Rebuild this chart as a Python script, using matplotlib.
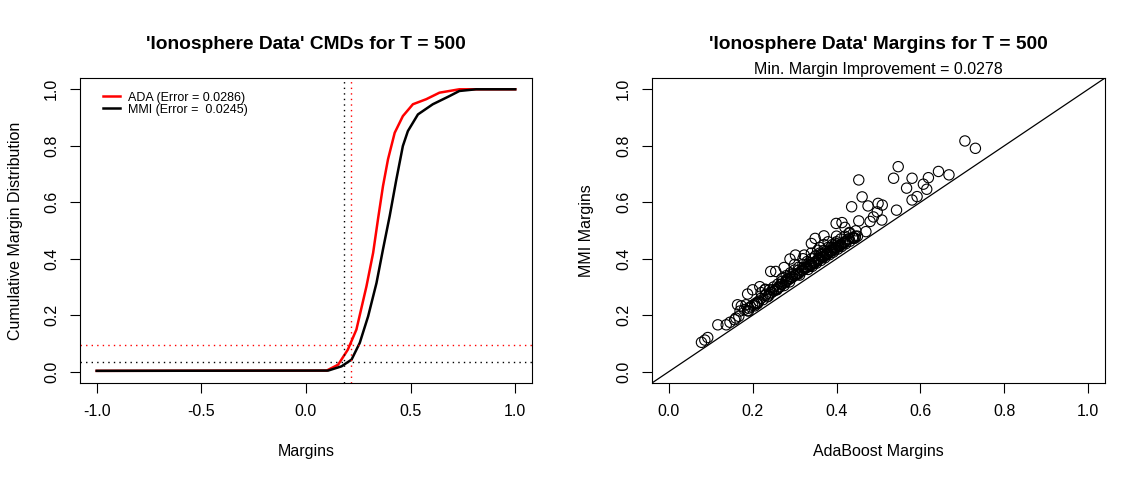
import matplotlib
matplotlib.use("Agg")
from matplotlib import pyplot as plt

plt.rcParams['font.family'] = ['Liberation Sans', 'DejaVu Sans']

# cumulative margin distributions
ada_margin = [-1.0, 0.099, 0.154, 0.20, 0.241, 0.289, 0.321, 0.344, 0.368,
              0.392, 0.424, 0.463, 0.511, 0.575, 0.638, 0.733, 1.0]
ada_cdf = [0.003, 0.004, 0.025, 0.078, 0.149, 0.302, 0.421, 0.539, 0.657,
           0.752, 0.846, 0.905, 0.947, 0.965, 0.988, 1.0, 1.0]
mmi_margin = [-1.0, 0.106, 0.17, 0.218, 0.257, 0.297, 0.337, 0.368, 0.40,
              0.432, 0.463, 0.487, 0.535, 0.606, 0.686, 0.733, 0.813, 1.0]
mmi_cdf = [0.003, 0.004, 0.019, 0.043, 0.102, 0.196, 0.314, 0.433, 0.551,
           0.681, 0.799, 0.852, 0.911, 0.947, 0.976, 0.994, 1.0, 1.0]
ada_vline, mmi_vline = 0.214, 0.181
ada_hline, mmi_hline = 0.096, 0.035

# per-sample margins (right panel)
ada_pts = [0.078, 0.086, 0.093, 0.117, 0.137, 0.146, 0.157, 0.16, 0.167, 0.164,
           0.173, 0.184, 0.188, 0.2, 0.188, 0.205, 0.217, 0.23, 0.243, 0.255,
           0.275, 0.289, 0.302, 0.323, 0.34, 0.349, 0.37, 0.399, 0.413, 0.42,
           0.436, 0.453, 0.461, 0.453, 0.475, 0.499, 0.509, 0.497, 0.488, 0.48,
           0.508, 0.47, 0.543, 0.536, 0.547, 0.567, 0.58, 0.58, 0.592, 0.607,
           0.615, 0.619, 0.643, 0.668, 0.706, 0.731, 0.444, 0.446, 0.431,
           0.17, 0.18, 0.19, 0.195, 0.2, 0.19, 0.21,
           0.205, 0.21, 0.215, 0.22, 0.22, 0.225, 0.23, 0.23, 0.235, 0.24,
           0.24, 0.245, 0.25, 0.25, 0.255, 0.26, 0.26, 0.265, 0.27, 0.27,
           0.275, 0.28, 0.28, 0.285, 0.29, 0.29, 0.295, 0.30, 0.30, 0.30,
           0.305, 0.31, 0.31, 0.315, 0.32, 0.32, 0.32, 0.325, 0.33, 0.33,
           0.335, 0.34, 0.34, 0.34, 0.345, 0.35, 0.35, 0.355, 0.355, 0.36,
           0.36, 0.36, 0.365, 0.37, 0.37, 0.37, 0.375, 0.38, 0.38, 0.38,
           0.385, 0.39, 0.39, 0.395, 0.40, 0.40, 0.40, 0.405, 0.41, 0.41,
           0.415, 0.42, 0.42, 0.425, 0.43, 0.43, 0.44, 0.445,
           0.232, 0.247, 0.262, 0.278, 0.292, 0.308, 0.318, 0.328, 0.338, 0.348,
           0.358, 0.368, 0.378, 0.388, 0.398, 0.408, 0.418, 0.428, 0.438, 0.35,
           0.362, 0.374, 0.386, 0.397, 0.31, 0.322, 0.334, 0.27, 0.283, 0.296,
           0.212, 0.238, 0.258, 0.288, 0.312, 0.332, 0.342, 0.352, 0.363, 0.372,
           0.383, 0.392, 0.403, 0.412, 0.422, 0.432, 0.441, 0.45, 0.392, 0.402,
           0.357, 0.367, 0.377, 0.337, 0.327, 0.303, 0.282, 0.268, 0.395, 0.405]
mmi_pts = [0.104, 0.112, 0.121, 0.166, 0.166, 0.175, 0.184, 0.19, 0.196, 0.237,
           0.233, 0.237, 0.275, 0.29, 0.216, 0.233, 0.301, 0.292, 0.355, 0.355,
           0.369, 0.399, 0.413, 0.413, 0.454, 0.472, 0.481, 0.525, 0.528, 0.511,
           0.584, 0.679, 0.619, 0.534, 0.587, 0.596, 0.59, 0.566, 0.548, 0.532,
           0.537, 0.496, 0.572, 0.685, 0.726, 0.65, 0.685, 0.608, 0.62, 0.664,
           0.646, 0.687, 0.709, 0.697, 0.817, 0.791, 0.473, 0.499, 0.493,
           0.215, 0.22, 0.225, 0.23, 0.235, 0.215, 0.24,
           0.24, 0.245, 0.25, 0.26, 0.28, 0.255, 0.27, 0.29, 0.265, 0.275,
           0.29, 0.28, 0.285, 0.30, 0.29, 0.295, 0.31, 0.30, 0.31, 0.33,
           0.305, 0.32, 0.34, 0.325, 0.33, 0.35, 0.335, 0.34, 0.36, 0.38,
           0.345, 0.35, 0.37, 0.355, 0.36, 0.38, 0.40, 0.365, 0.37, 0.39,
           0.375, 0.38, 0.40, 0.42, 0.385, 0.39, 0.41, 0.395, 0.43, 0.40,
           0.42, 0.44, 0.405, 0.41, 0.43, 0.45, 0.415, 0.42, 0.44, 0.46,
           0.425, 0.43, 0.45, 0.435, 0.44, 0.46, 0.48, 0.445, 0.45, 0.47,
           0.455, 0.46, 0.48, 0.465, 0.47, 0.49, 0.475, 0.48,
           0.275, 0.29, 0.30, 0.315, 0.335, 0.345, 0.36, 0.37, 0.375, 0.385,
           0.40, 0.405, 0.415, 0.43, 0.44, 0.445, 0.455, 0.47, 0.475, 0.41,
           0.415, 0.425, 0.44, 0.455, 0.36, 0.37, 0.385, 0.32, 0.33, 0.345,
           0.242, 0.268, 0.29, 0.318, 0.342, 0.362, 0.373, 0.384, 0.394, 0.403,
           0.414, 0.423, 0.434, 0.443, 0.453, 0.462, 0.472, 0.48, 0.44, 0.452,
           0.402, 0.415, 0.42, 0.38, 0.37, 0.346, 0.325, 0.31, 0.43, 0.445]

fig = plt.figure(figsize=(11.47, 4.82), dpi=100)
ax1 = fig.add_axes([0.0697, 0.2054, 0.3941, 0.6328])
ax2 = fig.add_axes([0.5684, 0.2054, 0.3950, 0.6328])

# left: CMDs
ax1.plot(ada_margin, ada_cdf, color='red', lw=1.8, label='ADA (Error = 0.0286)')
ax1.plot(mmi_margin, mmi_cdf, color='black', lw=1.8, label='MMI (Error =  0.0245)')
ax1.axvline(ada_vline, color='red', ls=(0, (1, 3)), lw=1)
ax1.axvline(mmi_vline, color='black', ls=(0, (1, 3)), lw=1)
ax1.axhline(ada_hline, color='red', ls=(0, (1, 3)), lw=1)
ax1.axhline(mmi_hline, color='black', ls=(0, (1, 3)), lw=1)
ax1.set_xlim(-1.08, 1.08)
ax1.set_ylim(-0.04, 1.04)
ax1.set_xticks([-1.0, -0.5, 0.0, 0.5, 1.0])
ax1.set_xticklabels(['-1.0', '-0.5', '0.0', '0.5', '1.0'])
ax1.set_yticks([0.0, 0.2, 0.4, 0.6, 0.8, 1.0])
ax1.set_yticklabels(['0.0', '0.2', '0.4', '0.6', '0.8', '1.0'], rotation=90, va='center')
ax1.set_title("'Ionosphere Data' CMDs for T = 500", fontsize=13.8, fontweight='bold', pad=21)
ax1.set_xlabel('Margins', fontsize=11.5)
ax1.set_ylabel('Cumulative Margin Distribution', fontsize=11.5)
ax1.legend(loc='upper left', bbox_to_anchor=(0.051, 0.955), frameon=False, fontsize=9,
           handlelength=1.36, handletextpad=0.64, labelspacing=0.0,
           borderaxespad=0, borderpad=0)

# right: margin scatter
ax2.scatter(ada_pts, mmi_pts, s=55, facecolors='none', edgecolors='black', linewidths=0.8)
ax2.plot([-0.04, 1.04], [-0.04, 1.04], color='black', lw=0.9)
ax2.set_xlim(-0.04, 1.04)
ax2.set_ylim(-0.04, 1.04)
ax2.set_xticks([0.0, 0.2, 0.4, 0.6, 0.8, 1.0])
ax2.set_xticklabels(['0.0', '0.2', '0.4', '0.6', '0.8', '1.0'])
ax2.set_yticks([0.0, 0.2, 0.4, 0.6, 0.8, 1.0])
ax2.set_yticklabels(['0.0', '0.2', '0.4', '0.6', '0.8', '1.0'], rotation=90, va='center')
ax2.set_title("'Ionosphere Data' Margins for T = 500", fontsize=13.8, fontweight='bold', pad=21)
ax2.text(0.5, 1.004, 'Min. Margin Improvement = 0.0278', transform=ax2.transAxes,
         ha='center', va='bottom', fontsize=11.5)
ax2.set_xlabel('AdaBoost Margins', fontsize=11.5)
ax2.set_ylabel('MMI Margins', fontsize=11.5)

for ax in (ax1, ax2):
    ax.tick_params(direction='out', length=7, width=0.8, labelsize=11.5, pad=8)
    for sp in ax.spines.values():
        sp.set_linewidth(0.8)
    ax.xaxis.set_label_coords(0.5, -0.2)
    ax.yaxis.set_label_coords(-0.127, 0.5)

fig.savefig('out.png', dpi=100)
